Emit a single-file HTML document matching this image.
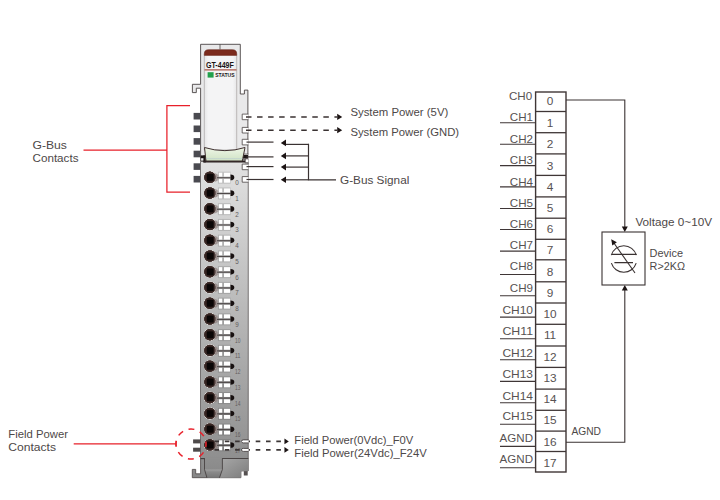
<!DOCTYPE html>
<html lang="en"><head><meta charset="utf-8"><title>GT-449F wiring</title>
<style>html,body{margin:0;padding:0;background:#fff;}svg{display:block;}text{font-family:'Liberation Sans', sans-serif;}</style>
</head><body>
<svg width="720" height="500" viewBox="0 0 720 500">
<defs>
<linearGradient id="body" x1="0" y1="0" x2="0" y2="1"><stop offset="0" stop-color="#e2e2e2"/><stop offset="1" stop-color="#8f8f8f"/></linearGradient>
<linearGradient id="win" x1="0" y1="0" x2="1" y2="0"><stop offset="0" stop-color="#e6e6e7"/><stop offset="0.12" stop-color="#f4f4f5"/><stop offset="0.88" stop-color="#f4f4f5"/><stop offset="1" stop-color="#e6e6e7"/></linearGradient>
<radialGradient id="hole" cx="0.5" cy="0.5" r="0.56"><stop offset="0.45" stop-color="#2a1a18"/><stop offset="0.74" stop-color="#3e2d2a"/><stop offset="0.8" stop-color="#6a5a57"/><stop offset="0.83" stop-color="#e6e0de" stop-opacity="0.9"/><stop offset="0.88" stop-color="#e6e0de" stop-opacity="0"/></radialGradient>
<linearGradient id="clip" x1="0" y1="0" x2="0" y2="1"><stop offset="0" stop-color="#eef5e6"/><stop offset="1" stop-color="#cfe3c4"/></linearGradient>
<linearGradient id="shd" x1="0" y1="0" x2="1" y2="0"><stop offset="0" stop-color="#6a5a58" stop-opacity="0"/><stop offset="0.5" stop-color="#8a7a78" stop-opacity="0.75"/><stop offset="1" stop-color="#a89c9a" stop-opacity="0.6"/></linearGradient>
<linearGradient id="foot" x1="0" y1="0" x2="0" y2="1"><stop offset="0" stop-color="#8f8f8f"/><stop offset="1" stop-color="#868686"/></linearGradient>
<linearGradient id="footr" x1="0" y1="0" x2="1" y2="1"><stop offset="0" stop-color="#a8a8a8"/><stop offset="1" stop-color="#7c7c7c"/></linearGradient>
<linearGradient id="trap" x1="0" y1="0" x2="0" y2="1"><stop offset="0" stop-color="#a2a2a2"/><stop offset="0.3" stop-color="#8a8a8a"/><stop offset="1" stop-color="#767676"/></linearGradient>
</defs>
<rect width="720" height="500" fill="#fff"/>
<path d="M200.6 44.3 H240.3 V94 H244.4 V90.1 H247.9 V161 H200.6 V88.2 H196.3 V92.6 H192.4 V84.3 H200.6 Z" fill="#e9e9ea" stroke="#4a4444" stroke-width="0.9"/>
<rect x="200.6" y="161.6" width="47.6" height="296.9" fill="url(#body)" stroke="#5a5555" stroke-width="0.8"/>
<line x1="220" y1="44.3" x2="220" y2="50" stroke="#4a4444" stroke-width="0.8"/>
<path d="M204.3 150 V54 Q204.3 49.8 208.5 49.8 H232.5 Q236.7 49.8 236.7 54 V150 Z" fill="url(#win)" stroke="#a8a4a4" stroke-width="0.7"/>
<path d="M204.3 55.4 V54 Q204.3 49.8 208.5 49.8 H232.5 Q236.7 49.8 236.7 54 V55.4 Z" fill="#7b2a1c" stroke="#6a2418" stroke-width="0.5"/>
<text x="219.9" y="67.8" font-size="8.6" fill="#1a1414" text-anchor="middle" font-weight="bold" textLength="28" lengthAdjust="spacingAndGlyphs">GT-449F</text>
<line x1="204.5" y1="69.9" x2="236.5" y2="69.9" stroke="#a9584b" stroke-width="1.2"/>
<rect x="207.6" y="72.2" width="6" height="5.4" fill="#22a04c"/>
<text x="215.2" y="77.3" font-size="5.6" fill="#1a1414" text-anchor="start" font-weight="bold" textLength="19.4" lengthAdjust="spacingAndGlyphs">STATUS</text>
<path d="M248.4 114.10000000000001 H242.2 V119.7 H248.4" fill="#fff" stroke="#4a4444" stroke-width="0.8"/>
<path d="M248.4 127.39999999999999 H242.2 V133.0 H248.4" fill="#fff" stroke="#4a4444" stroke-width="0.8"/>
<path d="M248.4 139.29999999999998 H242.2 V144.9 H248.4" fill="#fff" stroke="#4a4444" stroke-width="0.8"/>
<path d="M248.4 154.1 H242.2 V159.70000000000002 H248.4" fill="#fff" stroke="#4a4444" stroke-width="0.8"/>
<path d="M248.4 164.1 H242.2 V169.70000000000002 H248.4" fill="#fff" stroke="#4a4444" stroke-width="0.8"/>
<path d="M248.4 176.6 H242.2 V182.20000000000002 H248.4" fill="#fff" stroke="#4a4444" stroke-width="0.8"/>
<rect x="193.6" y="112.9" width="6.6" height="6.6" fill="#4a4a50"/>
<rect x="193.6" y="125.5" width="6.6" height="6.6" fill="#4a4a50"/>
<rect x="193.6" y="138.1" width="6.6" height="6.6" fill="#4a4a50"/>
<rect x="193.6" y="150.7" width="6.6" height="6.6" fill="#4a4a50"/>
<rect x="193.6" y="163.3" width="6.6" height="6.6" fill="#4a4a50"/>
<rect x="193.6" y="175.9" width="6.6" height="6.6" fill="#4a4a50"/>
<rect x="200.7" y="155.4" width="5" height="2.8" fill="#1c1616"/>
<rect x="203.4" y="155.4" width="2.4" height="7" fill="#1c1616"/>
<rect x="242.3" y="155" width="5.8" height="3.6" fill="#1c1616"/>
<path d="M248.2 158.8 H245.2 V162.8 H248.2" fill="#fff" stroke="#3a3434" stroke-width="0.8"/>
<line x1="203.4" y1="161.6" x2="245" y2="161.6" stroke="#2a2020" stroke-width="1.9"/>
<path d="M204.5 147.5 Q225 153.8 245 147.5 L242.3 161 H206 Z" fill="url(#clip)" stroke="#3f3030" stroke-width="1"/>
<line x1="206.2" y1="158.6" x2="242.6" y2="158.6" stroke="#b9cbd0" stroke-width="0.6"/>
<circle cx="209.9" cy="177.30" r="6.5" fill="url(#hole)"/>
<rect x="207" y="174.10" width="6.5" height="6.6" fill="#0a0606"/>
<path d="M213.6 172.40 Q216.6 173.70 218.6 175.10 V180.10 Q216.6 181.30 213.6 182.40 Z" fill="url(#shd)"/>
<rect x="217.9" y="171.70" width="12.7" height="12" fill="#000" fill-opacity="0.13"/>
<rect x="218.9" y="172.70" width="3.3" height="3.9" fill="#fff"/>
<rect x="224" y="172.70" width="6.1" height="3.9" fill="#fff"/>
<rect x="218.9" y="178.90" width="3.3" height="3.8" fill="#fff"/>
<rect x="224" y="178.90" width="6.1" height="3.8" fill="#fff"/>
<line x1="217" y1="177.75" x2="230.6" y2="177.75" stroke="#4e4848" stroke-width="1.1"/>
<path d="M230.5 174.60 Q234.3 174.60 234.3 177.40 Q234.3 180.20 230.5 180.20 Z" fill="#171010"/>
<text x="235.3" y="185.20" font-size="7.4" fill="#625c5c" text-anchor="start" font-weight="normal" textLength="3.5" lengthAdjust="spacingAndGlyphs">0</text>
<circle cx="209.9" cy="193.04" r="6.5" fill="url(#hole)"/>
<rect x="207" y="189.84" width="6.5" height="6.6" fill="#0a0606"/>
<path d="M213.6 188.14 Q216.6 189.44 218.6 190.84 V195.84 Q216.6 197.04 213.6 198.14 Z" fill="url(#shd)"/>
<rect x="217.9" y="187.44" width="12.7" height="12" fill="#000" fill-opacity="0.13"/>
<rect x="218.9" y="188.44" width="3.3" height="3.9" fill="#fff"/>
<rect x="224" y="188.44" width="6.1" height="3.9" fill="#fff"/>
<rect x="218.9" y="194.64" width="3.3" height="3.8" fill="#fff"/>
<rect x="224" y="194.64" width="6.1" height="3.8" fill="#fff"/>
<line x1="217" y1="193.49" x2="230.6" y2="193.49" stroke="#4e4848" stroke-width="1.1"/>
<path d="M230.5 190.34 Q234.3 190.34 234.3 193.14 Q234.3 195.94 230.5 195.94 Z" fill="#171010"/>
<text x="235.3" y="200.94" font-size="7.4" fill="#625c5c" text-anchor="start" font-weight="normal" textLength="3.5" lengthAdjust="spacingAndGlyphs">1</text>
<circle cx="209.9" cy="208.78" r="6.5" fill="url(#hole)"/>
<rect x="207" y="205.58" width="6.5" height="6.6" fill="#0a0606"/>
<path d="M213.6 203.88 Q216.6 205.18 218.6 206.58 V211.58 Q216.6 212.78 213.6 213.88 Z" fill="url(#shd)"/>
<rect x="217.9" y="203.18" width="12.7" height="12" fill="#000" fill-opacity="0.13"/>
<rect x="218.9" y="204.18" width="3.3" height="3.9" fill="#fff"/>
<rect x="224" y="204.18" width="6.1" height="3.9" fill="#fff"/>
<rect x="218.9" y="210.38" width="3.3" height="3.8" fill="#fff"/>
<rect x="224" y="210.38" width="6.1" height="3.8" fill="#fff"/>
<line x1="217" y1="209.23" x2="230.6" y2="209.23" stroke="#4e4848" stroke-width="1.1"/>
<path d="M230.5 206.08 Q234.3 206.08 234.3 208.88 Q234.3 211.68 230.5 211.68 Z" fill="#171010"/>
<text x="235.3" y="216.68" font-size="7.4" fill="#625c5c" text-anchor="start" font-weight="normal" textLength="3.5" lengthAdjust="spacingAndGlyphs">2</text>
<circle cx="209.9" cy="224.52" r="6.5" fill="url(#hole)"/>
<rect x="207" y="221.32" width="6.5" height="6.6" fill="#0a0606"/>
<path d="M213.6 219.62 Q216.6 220.92 218.6 222.32 V227.32 Q216.6 228.52 213.6 229.62 Z" fill="url(#shd)"/>
<rect x="217.9" y="218.92" width="12.7" height="12" fill="#000" fill-opacity="0.13"/>
<rect x="218.9" y="219.92" width="3.3" height="3.9" fill="#fff"/>
<rect x="224" y="219.92" width="6.1" height="3.9" fill="#fff"/>
<rect x="218.9" y="226.12" width="3.3" height="3.8" fill="#fff"/>
<rect x="224" y="226.12" width="6.1" height="3.8" fill="#fff"/>
<line x1="217" y1="224.97" x2="230.6" y2="224.97" stroke="#4e4848" stroke-width="1.1"/>
<path d="M230.5 221.82 Q234.3 221.82 234.3 224.62 Q234.3 227.42 230.5 227.42 Z" fill="#171010"/>
<text x="235.3" y="232.42" font-size="7.4" fill="#625c5c" text-anchor="start" font-weight="normal" textLength="3.5" lengthAdjust="spacingAndGlyphs">3</text>
<circle cx="209.9" cy="240.26" r="6.5" fill="url(#hole)"/>
<rect x="207" y="237.06" width="6.5" height="6.6" fill="#0a0606"/>
<path d="M213.6 235.36 Q216.6 236.66 218.6 238.06 V243.06 Q216.6 244.26 213.6 245.36 Z" fill="url(#shd)"/>
<rect x="217.9" y="234.66" width="12.7" height="12" fill="#000" fill-opacity="0.13"/>
<rect x="218.9" y="235.66" width="3.3" height="3.9" fill="#fff"/>
<rect x="224" y="235.66" width="6.1" height="3.9" fill="#fff"/>
<rect x="218.9" y="241.86" width="3.3" height="3.8" fill="#fff"/>
<rect x="224" y="241.86" width="6.1" height="3.8" fill="#fff"/>
<line x1="217" y1="240.71" x2="230.6" y2="240.71" stroke="#4e4848" stroke-width="1.1"/>
<path d="M230.5 237.56 Q234.3 237.56 234.3 240.36 Q234.3 243.16 230.5 243.16 Z" fill="#171010"/>
<text x="235.3" y="248.16" font-size="7.4" fill="#625c5c" text-anchor="start" font-weight="normal" textLength="3.5" lengthAdjust="spacingAndGlyphs">4</text>
<circle cx="209.9" cy="256.00" r="6.5" fill="url(#hole)"/>
<rect x="207" y="252.80" width="6.5" height="6.6" fill="#0a0606"/>
<path d="M213.6 251.10 Q216.6 252.40 218.6 253.80 V258.80 Q216.6 260.00 213.6 261.10 Z" fill="url(#shd)"/>
<rect x="217.9" y="250.40" width="12.7" height="12" fill="#000" fill-opacity="0.13"/>
<rect x="218.9" y="251.40" width="3.3" height="3.9" fill="#fff"/>
<rect x="224" y="251.40" width="6.1" height="3.9" fill="#fff"/>
<rect x="218.9" y="257.60" width="3.3" height="3.8" fill="#fff"/>
<rect x="224" y="257.60" width="6.1" height="3.8" fill="#fff"/>
<line x1="217" y1="256.45" x2="230.6" y2="256.45" stroke="#4e4848" stroke-width="1.1"/>
<path d="M230.5 253.30 Q234.3 253.30 234.3 256.10 Q234.3 258.90 230.5 258.90 Z" fill="#171010"/>
<text x="235.3" y="263.90" font-size="7.4" fill="#625c5c" text-anchor="start" font-weight="normal" textLength="3.5" lengthAdjust="spacingAndGlyphs">5</text>
<circle cx="209.9" cy="271.74" r="6.5" fill="url(#hole)"/>
<rect x="207" y="268.54" width="6.5" height="6.6" fill="#0a0606"/>
<path d="M213.6 266.84 Q216.6 268.14 218.6 269.54 V274.54 Q216.6 275.74 213.6 276.84 Z" fill="url(#shd)"/>
<rect x="217.9" y="266.14" width="12.7" height="12" fill="#000" fill-opacity="0.13"/>
<rect x="218.9" y="267.14" width="3.3" height="3.9" fill="#fff"/>
<rect x="224" y="267.14" width="6.1" height="3.9" fill="#fff"/>
<rect x="218.9" y="273.34" width="3.3" height="3.8" fill="#fff"/>
<rect x="224" y="273.34" width="6.1" height="3.8" fill="#fff"/>
<line x1="217" y1="272.19" x2="230.6" y2="272.19" stroke="#4e4848" stroke-width="1.1"/>
<path d="M230.5 269.04 Q234.3 269.04 234.3 271.84 Q234.3 274.64 230.5 274.64 Z" fill="#171010"/>
<text x="235.3" y="279.64" font-size="7.4" fill="#625c5c" text-anchor="start" font-weight="normal" textLength="3.5" lengthAdjust="spacingAndGlyphs">6</text>
<circle cx="209.9" cy="287.48" r="6.5" fill="url(#hole)"/>
<rect x="207" y="284.28" width="6.5" height="6.6" fill="#0a0606"/>
<path d="M213.6 282.58 Q216.6 283.88 218.6 285.28 V290.28 Q216.6 291.48 213.6 292.58 Z" fill="url(#shd)"/>
<rect x="217.9" y="281.88" width="12.7" height="12" fill="#000" fill-opacity="0.13"/>
<rect x="218.9" y="282.88" width="3.3" height="3.9" fill="#fff"/>
<rect x="224" y="282.88" width="6.1" height="3.9" fill="#fff"/>
<rect x="218.9" y="289.08" width="3.3" height="3.8" fill="#fff"/>
<rect x="224" y="289.08" width="6.1" height="3.8" fill="#fff"/>
<line x1="217" y1="287.93" x2="230.6" y2="287.93" stroke="#4e4848" stroke-width="1.1"/>
<path d="M230.5 284.78 Q234.3 284.78 234.3 287.58 Q234.3 290.38 230.5 290.38 Z" fill="#171010"/>
<text x="235.3" y="295.38" font-size="7.4" fill="#625c5c" text-anchor="start" font-weight="normal" textLength="3.5" lengthAdjust="spacingAndGlyphs">7</text>
<circle cx="209.9" cy="303.22" r="6.5" fill="url(#hole)"/>
<rect x="207" y="300.02" width="6.5" height="6.6" fill="#0a0606"/>
<path d="M213.6 298.32 Q216.6 299.62 218.6 301.02 V306.02 Q216.6 307.22 213.6 308.32 Z" fill="url(#shd)"/>
<rect x="217.9" y="297.62" width="12.7" height="12" fill="#000" fill-opacity="0.13"/>
<rect x="218.9" y="298.62" width="3.3" height="3.9" fill="#fff"/>
<rect x="224" y="298.62" width="6.1" height="3.9" fill="#fff"/>
<rect x="218.9" y="304.82" width="3.3" height="3.8" fill="#fff"/>
<rect x="224" y="304.82" width="6.1" height="3.8" fill="#fff"/>
<line x1="217" y1="303.67" x2="230.6" y2="303.67" stroke="#4e4848" stroke-width="1.1"/>
<path d="M230.5 300.52 Q234.3 300.52 234.3 303.32 Q234.3 306.12 230.5 306.12 Z" fill="#171010"/>
<text x="235.3" y="311.12" font-size="7.4" fill="#625c5c" text-anchor="start" font-weight="normal" textLength="3.5" lengthAdjust="spacingAndGlyphs">8</text>
<circle cx="209.9" cy="318.96" r="6.5" fill="url(#hole)"/>
<rect x="207" y="315.76" width="6.5" height="6.6" fill="#0a0606"/>
<path d="M213.6 314.06 Q216.6 315.36 218.6 316.76 V321.76 Q216.6 322.96 213.6 324.06 Z" fill="url(#shd)"/>
<rect x="217.9" y="313.36" width="12.7" height="12" fill="#000" fill-opacity="0.13"/>
<rect x="218.9" y="314.36" width="3.3" height="3.9" fill="#fff"/>
<rect x="224" y="314.36" width="6.1" height="3.9" fill="#fff"/>
<rect x="218.9" y="320.56" width="3.3" height="3.8" fill="#fff"/>
<rect x="224" y="320.56" width="6.1" height="3.8" fill="#fff"/>
<line x1="217" y1="319.41" x2="230.6" y2="319.41" stroke="#4e4848" stroke-width="1.1"/>
<path d="M230.5 316.26 Q234.3 316.26 234.3 319.06 Q234.3 321.86 230.5 321.86 Z" fill="#171010"/>
<text x="235.3" y="326.86" font-size="7.4" fill="#625c5c" text-anchor="start" font-weight="normal" textLength="3.5" lengthAdjust="spacingAndGlyphs">9</text>
<circle cx="209.9" cy="334.70" r="6.5" fill="url(#hole)"/>
<rect x="207" y="331.50" width="6.5" height="6.6" fill="#0a0606"/>
<path d="M213.6 329.80 Q216.6 331.10 218.6 332.50 V337.50 Q216.6 338.70 213.6 339.80 Z" fill="url(#shd)"/>
<rect x="217.9" y="329.10" width="12.7" height="12" fill="#000" fill-opacity="0.13"/>
<rect x="218.9" y="330.10" width="3.3" height="3.9" fill="#fff"/>
<rect x="224" y="330.10" width="6.1" height="3.9" fill="#fff"/>
<rect x="218.9" y="336.30" width="3.3" height="3.8" fill="#fff"/>
<rect x="224" y="336.30" width="6.1" height="3.8" fill="#fff"/>
<line x1="217" y1="335.15" x2="230.6" y2="335.15" stroke="#4e4848" stroke-width="1.1"/>
<path d="M230.5 332.00 Q234.3 332.00 234.3 334.80 Q234.3 337.60 230.5 337.60 Z" fill="#171010"/>
<text x="235.1" y="342.60" font-size="7.4" fill="#625c5c" text-anchor="start" font-weight="normal" textLength="5.4" lengthAdjust="spacingAndGlyphs">10</text>
<circle cx="209.9" cy="350.44" r="6.5" fill="url(#hole)"/>
<rect x="207" y="347.24" width="6.5" height="6.6" fill="#0a0606"/>
<path d="M213.6 345.54 Q216.6 346.84 218.6 348.24 V353.24 Q216.6 354.44 213.6 355.54 Z" fill="url(#shd)"/>
<rect x="217.9" y="344.84" width="12.7" height="12" fill="#000" fill-opacity="0.13"/>
<rect x="218.9" y="345.84" width="3.3" height="3.9" fill="#fff"/>
<rect x="224" y="345.84" width="6.1" height="3.9" fill="#fff"/>
<rect x="218.9" y="352.04" width="3.3" height="3.8" fill="#fff"/>
<rect x="224" y="352.04" width="6.1" height="3.8" fill="#fff"/>
<line x1="217" y1="350.89" x2="230.6" y2="350.89" stroke="#4e4848" stroke-width="1.1"/>
<path d="M230.5 347.74 Q234.3 347.74 234.3 350.54 Q234.3 353.34 230.5 353.34 Z" fill="#171010"/>
<text x="235.1" y="358.34" font-size="7.4" fill="#625c5c" text-anchor="start" font-weight="normal" textLength="5.4" lengthAdjust="spacingAndGlyphs">11</text>
<circle cx="209.9" cy="366.18" r="6.5" fill="url(#hole)"/>
<rect x="207" y="362.98" width="6.5" height="6.6" fill="#0a0606"/>
<path d="M213.6 361.28 Q216.6 362.58 218.6 363.98 V368.98 Q216.6 370.18 213.6 371.28 Z" fill="url(#shd)"/>
<rect x="217.9" y="360.58" width="12.7" height="12" fill="#000" fill-opacity="0.13"/>
<rect x="218.9" y="361.58" width="3.3" height="3.9" fill="#fff"/>
<rect x="224" y="361.58" width="6.1" height="3.9" fill="#fff"/>
<rect x="218.9" y="367.78" width="3.3" height="3.8" fill="#fff"/>
<rect x="224" y="367.78" width="6.1" height="3.8" fill="#fff"/>
<line x1="217" y1="366.63" x2="230.6" y2="366.63" stroke="#4e4848" stroke-width="1.1"/>
<path d="M230.5 363.48 Q234.3 363.48 234.3 366.28 Q234.3 369.08 230.5 369.08 Z" fill="#171010"/>
<text x="235.1" y="374.08" font-size="7.4" fill="#625c5c" text-anchor="start" font-weight="normal" textLength="5.4" lengthAdjust="spacingAndGlyphs">12</text>
<circle cx="209.9" cy="381.92" r="6.5" fill="url(#hole)"/>
<rect x="207" y="378.72" width="6.5" height="6.6" fill="#0a0606"/>
<path d="M213.6 377.02 Q216.6 378.32 218.6 379.72 V384.72 Q216.6 385.92 213.6 387.02 Z" fill="url(#shd)"/>
<rect x="217.9" y="376.32" width="12.7" height="12" fill="#000" fill-opacity="0.13"/>
<rect x="218.9" y="377.32" width="3.3" height="3.9" fill="#fff"/>
<rect x="224" y="377.32" width="6.1" height="3.9" fill="#fff"/>
<rect x="218.9" y="383.52" width="3.3" height="3.8" fill="#fff"/>
<rect x="224" y="383.52" width="6.1" height="3.8" fill="#fff"/>
<line x1="217" y1="382.37" x2="230.6" y2="382.37" stroke="#4e4848" stroke-width="1.1"/>
<path d="M230.5 379.22 Q234.3 379.22 234.3 382.02 Q234.3 384.82 230.5 384.82 Z" fill="#171010"/>
<text x="235.1" y="389.82" font-size="7.4" fill="#625c5c" text-anchor="start" font-weight="normal" textLength="5.4" lengthAdjust="spacingAndGlyphs">13</text>
<circle cx="209.9" cy="397.66" r="6.5" fill="url(#hole)"/>
<rect x="207" y="394.46" width="6.5" height="6.6" fill="#0a0606"/>
<path d="M213.6 392.76 Q216.6 394.06 218.6 395.46 V400.46 Q216.6 401.66 213.6 402.76 Z" fill="url(#shd)"/>
<rect x="217.9" y="392.06" width="12.7" height="12" fill="#000" fill-opacity="0.13"/>
<rect x="218.9" y="393.06" width="3.3" height="3.9" fill="#fff"/>
<rect x="224" y="393.06" width="6.1" height="3.9" fill="#fff"/>
<rect x="218.9" y="399.26" width="3.3" height="3.8" fill="#fff"/>
<rect x="224" y="399.26" width="6.1" height="3.8" fill="#fff"/>
<line x1="217" y1="398.11" x2="230.6" y2="398.11" stroke="#4e4848" stroke-width="1.1"/>
<path d="M230.5 394.96 Q234.3 394.96 234.3 397.76 Q234.3 400.56 230.5 400.56 Z" fill="#171010"/>
<text x="235.1" y="405.56" font-size="7.4" fill="#625c5c" text-anchor="start" font-weight="normal" textLength="5.4" lengthAdjust="spacingAndGlyphs">14</text>
<circle cx="209.9" cy="413.40" r="6.5" fill="url(#hole)"/>
<rect x="207" y="410.20" width="6.5" height="6.6" fill="#0a0606"/>
<path d="M213.6 408.50 Q216.6 409.80 218.6 411.20 V416.20 Q216.6 417.40 213.6 418.50 Z" fill="url(#shd)"/>
<rect x="217.9" y="407.80" width="12.7" height="12" fill="#000" fill-opacity="0.13"/>
<rect x="218.9" y="408.80" width="3.3" height="3.9" fill="#fff"/>
<rect x="224" y="408.80" width="6.1" height="3.9" fill="#fff"/>
<rect x="218.9" y="415.00" width="3.3" height="3.8" fill="#fff"/>
<rect x="224" y="415.00" width="6.1" height="3.8" fill="#fff"/>
<line x1="217" y1="413.85" x2="230.6" y2="413.85" stroke="#4e4848" stroke-width="1.1"/>
<path d="M230.5 410.70 Q234.3 410.70 234.3 413.50 Q234.3 416.30 230.5 416.30 Z" fill="#171010"/>
<text x="235.1" y="421.30" font-size="7.4" fill="#625c5c" text-anchor="start" font-weight="normal" textLength="5.4" lengthAdjust="spacingAndGlyphs">15</text>
<circle cx="209.9" cy="429.14" r="6.5" fill="url(#hole)"/>
<rect x="207" y="425.94" width="6.5" height="6.6" fill="#0a0606"/>
<path d="M213.6 424.24 Q216.6 425.54 218.6 426.94 V431.94 Q216.6 433.14 213.6 434.24 Z" fill="url(#shd)"/>
<rect x="217.9" y="423.54" width="12.7" height="12" fill="#000" fill-opacity="0.13"/>
<rect x="218.9" y="424.54" width="3.3" height="3.9" fill="#fff"/>
<rect x="224" y="424.54" width="6.1" height="3.9" fill="#fff"/>
<rect x="218.9" y="430.74" width="3.3" height="3.8" fill="#fff"/>
<rect x="224" y="430.74" width="6.1" height="3.8" fill="#fff"/>
<line x1="217" y1="429.59" x2="230.6" y2="429.59" stroke="#4e4848" stroke-width="1.1"/>
<path d="M230.5 426.44 Q234.3 426.44 234.3 429.24 Q234.3 432.04 230.5 432.04 Z" fill="#171010"/>
<text x="235.1" y="437.04" font-size="7.4" fill="#625c5c" text-anchor="start" font-weight="normal" textLength="5.4" lengthAdjust="spacingAndGlyphs">16</text>
<circle cx="209.9" cy="444.88" r="6.5" fill="url(#hole)"/>
<rect x="207" y="441.68" width="6.5" height="6.6" fill="#0a0606"/>
<path d="M213.6 439.98 Q216.6 441.28 218.6 442.68 V447.68 Q216.6 448.88 213.6 449.98 Z" fill="url(#shd)"/>
<rect x="217.9" y="439.28" width="12.7" height="12" fill="#000" fill-opacity="0.13"/>
<rect x="218.9" y="440.28" width="3.3" height="3.9" fill="#fff"/>
<rect x="224" y="440.28" width="6.1" height="3.9" fill="#fff"/>
<rect x="218.9" y="446.48" width="3.3" height="3.8" fill="#fff"/>
<rect x="224" y="446.48" width="6.1" height="3.8" fill="#fff"/>
<line x1="217" y1="445.33" x2="230.6" y2="445.33" stroke="#4e4848" stroke-width="1.1"/>
<path d="M230.5 442.18 Q234.3 442.18 234.3 444.98 Q234.3 447.78 230.5 447.78 Z" fill="#171010"/>
<text x="235.1" y="452.78" font-size="7.4" fill="#625c5c" text-anchor="start" font-weight="normal" textLength="5.4" lengthAdjust="spacingAndGlyphs">17</text>
<path d="M200.6 458.5 H248.2 V470.9 H240.9 V477.7 H192.3 V469.4 H195.7 V473.8 H200.6 Z" fill="url(#foot)" stroke="#4a4444" stroke-width="0.8"/>
<path d="M222.4 458.5 H248.2 V470.9 H240.9 V477.7 H219.5 L222.4 469.4 Z" fill="url(#footr)" stroke="none"/>
<rect x="204.9" y="457.4" width="17.1" height="2.2" fill="#8f8f8f"/>
<path d="M204.5 469.4 H222.4 L219.5 477.7 H206.9 Z" fill="url(#trap)"/>
<path d="M200.6 458.7 H204.5 V469.4 L206.9 477.7 M248.2 458.5 H222.4 V469.4 L219.5 477.7" fill="none" stroke="#3f3838" stroke-width="0.8"/>
<rect x="243.8" y="471.1" width="3.9" height="4.4" fill="#555050"/>
<rect x="193.1" y="439.4" width="7.3" height="4" fill="#4e4a4a"/>
<rect x="193.1" y="447.7" width="7.3" height="4" fill="#4e4a4a"/>
<text x="32.5" y="148.5" font-size="11" fill="#4d4848" text-anchor="start" font-weight="normal" textLength="34.4" lengthAdjust="spacingAndGlyphs">G-Bus</text>
<text x="32.5" y="162" font-size="11" fill="#4d4848" text-anchor="start" font-weight="normal" textLength="46" lengthAdjust="spacingAndGlyphs">Contacts</text>
<path d="M83.5 150.2 H166.9 M190 105.6 H166.9 V192.1 H190" fill="none" stroke="#e8202a" stroke-width="1.25"/>
<text x="8.3" y="437.5" font-size="11" fill="#4d4848" text-anchor="start" font-weight="normal" textLength="59.7" lengthAdjust="spacingAndGlyphs">Field Power</text>
<text x="8.3" y="450.7" font-size="11" fill="#4d4848" text-anchor="start" font-weight="normal" textLength="47.7" lengthAdjust="spacingAndGlyphs">Contacts</text>
<path d="M73.7 443.9 H176 M176 441.3 V446.6" fill="none" stroke="#e8202a" stroke-width="1.2"/>
<circle cx="191" cy="444" r="15" fill="none" stroke="#e8202a" stroke-width="1.5" stroke-dasharray="6 5.78" stroke-dashoffset="3"/>
<line x1="246" y1="116.9" x2="337" y2="116.9" stroke="#3a3232" stroke-width="1.55" stroke-dasharray="5.5 5.55"/>
<path d="M342.2 116.9 L337.2 113.80000000000001 V120.0 Z" fill="#1c1414"/>
<line x1="246" y1="130.2" x2="337" y2="130.2" stroke="#3a3232" stroke-width="1.55" stroke-dasharray="5.5 5.55"/>
<path d="M342.2 130.2 L337.2 127.1 V133.29999999999998 Z" fill="#1c1414"/>
<line x1="246.5" y1="142.1" x2="273.5" y2="142.1" stroke="#3a3232" stroke-width="1.2"/>
<line x1="285" y1="144.4" x2="308.5" y2="144.4" stroke="#3a3232" stroke-width="1.2"/>
<path d="M280.8 142.9 L286.0 139.6 V146.20000000000002 Z" fill="#1c1414"/>
<line x1="246.5" y1="156.9" x2="273.5" y2="156.9" stroke="#3a3232" stroke-width="1.2"/>
<line x1="285" y1="155.9" x2="308.5" y2="155.9" stroke="#3a3232" stroke-width="1.2"/>
<path d="M280.8 155.9 L286.0 152.6 V159.20000000000002 Z" fill="#1c1414"/>
<line x1="246.5" y1="166.6" x2="273.5" y2="166.6" stroke="#3a3232" stroke-width="1.2"/>
<line x1="285" y1="167.1" x2="308.5" y2="167.1" stroke="#3a3232" stroke-width="1.2"/>
<path d="M280.8 167.1 L286.0 163.79999999999998 V170.4 Z" fill="#1c1414"/>
<line x1="246.5" y1="179.5" x2="273.5" y2="179.5" stroke="#3a3232" stroke-width="1.2"/>
<line x1="285" y1="179.8" x2="308.5" y2="179.8" stroke="#3a3232" stroke-width="1.2"/>
<path d="M280.8 179.8 L286.0 176.5 V183.10000000000002 Z" fill="#1c1414"/>
<path d="M308.5 143.8 V179.8 H336" fill="none" stroke="#3a3232" stroke-width="1.2"/>
<text x="350.4" y="116.4" font-size="11" fill="#4d4848" text-anchor="start" font-weight="normal" textLength="97.9" lengthAdjust="spacingAndGlyphs">System Power (5V)</text>
<text x="350.4" y="136.4" font-size="11" fill="#4d4848" text-anchor="start" font-weight="normal" textLength="108.7" lengthAdjust="spacingAndGlyphs">System Power (GND)</text>
<text x="340" y="183.5" font-size="11" fill="#4d4848" text-anchor="start" font-weight="normal" textLength="69.3" lengthAdjust="spacingAndGlyphs">G-Bus Signal</text>
<line x1="214.5" y1="441.4" x2="285" y2="441.4" stroke="#3c3636" stroke-width="1.6" stroke-dasharray="4.6 5.7"/>
<path d="M288.8 441.4 L284.45 438.5 V444.29999999999995 Z" fill="#1c1414"/>
<line x1="214.5" y1="449.9" x2="285" y2="449.9" stroke="#3c3636" stroke-width="1.6" stroke-dasharray="4.6 5.7"/>
<path d="M288.8 449.9 L284.45 447.0 V452.79999999999995 Z" fill="#1c1414"/>
<path d="M248.6 439.9 H243.4 Q241.6 439.9 241.3 441.4 Q241.6 442.9 243.4 442.9 H248.6" fill="#fff" stroke="#3a3434" stroke-width="0.8"/>
<path d="M248.6 448.4 H243.4 Q241.6 448.4 241.3 449.9 Q241.6 451.4 243.4 451.4 H248.6" fill="#fff" stroke="#3a3434" stroke-width="0.8"/>
<text x="294.3" y="444" font-size="11" fill="#4d4848" text-anchor="start" font-weight="normal" textLength="119" lengthAdjust="spacingAndGlyphs">Field Power(0Vdc)_F0V</text>
<text x="294.3" y="456.8" font-size="11" fill="#4d4848" text-anchor="start" font-weight="normal" textLength="132.4" lengthAdjust="spacingAndGlyphs">Field Power(24Vdc)_F24V</text>
<rect x="535.6" y="92" width="30.4" height="380.0" fill="#fff" stroke="#3f3636" stroke-width="1.4"/>
<line x1="535.6" y1="111.5" x2="566" y2="111.5" stroke="#3f3636" stroke-width="1.3"/>
<line x1="535.6" y1="132.7" x2="566" y2="132.7" stroke="#3f3636" stroke-width="1.3"/>
<line x1="535.6" y1="153.9" x2="566" y2="153.9" stroke="#3f3636" stroke-width="1.3"/>
<line x1="535.6" y1="175.4" x2="566" y2="175.4" stroke="#3f3636" stroke-width="1.3"/>
<line x1="535.6" y1="196.9" x2="566" y2="196.9" stroke="#3f3636" stroke-width="1.3"/>
<line x1="535.6" y1="218.2" x2="566" y2="218.2" stroke="#3f3636" stroke-width="1.3"/>
<line x1="535.6" y1="239.3" x2="566" y2="239.3" stroke="#3f3636" stroke-width="1.3"/>
<line x1="535.6" y1="259.8" x2="566" y2="259.8" stroke="#3f3636" stroke-width="1.3"/>
<line x1="535.6" y1="281.8" x2="566" y2="281.8" stroke="#3f3636" stroke-width="1.3"/>
<line x1="535.6" y1="303" x2="566" y2="303" stroke="#3f3636" stroke-width="1.3"/>
<line x1="535.6" y1="324.3" x2="566" y2="324.3" stroke="#3f3636" stroke-width="1.3"/>
<line x1="535.6" y1="346" x2="566" y2="346" stroke="#3f3636" stroke-width="1.3"/>
<line x1="535.6" y1="367.4" x2="566" y2="367.4" stroke="#3f3636" stroke-width="1.3"/>
<line x1="535.6" y1="389.1" x2="566" y2="389.1" stroke="#3f3636" stroke-width="1.3"/>
<line x1="535.6" y1="410.3" x2="566" y2="410.3" stroke="#3f3636" stroke-width="1.3"/>
<line x1="535.6" y1="431.1" x2="566" y2="431.1" stroke="#3f3636" stroke-width="1.3"/>
<line x1="535.6" y1="451.5" x2="566" y2="451.5" stroke="#3f3636" stroke-width="1.3"/>
<text x="550" y="105" font-size="11.8" fill="#575252" text-anchor="middle" font-weight="normal">0</text>
<text x="509.0" y="100.1" font-size="11.6" fill="#575252" text-anchor="start" font-weight="normal" textLength="23.2" lengthAdjust="spacingAndGlyphs">CH0</text>
<text x="550" y="126.6" font-size="11.8" fill="#575252" text-anchor="middle" font-weight="normal">1</text>
<text x="509.8" y="120.6" font-size="11.6" fill="#575252" text-anchor="start" font-weight="normal" textLength="23.2" lengthAdjust="spacingAndGlyphs">CH1</text>
<line x1="500" y1="122.7" x2="535.6" y2="122.7" stroke="#3f3636" stroke-width="1.1"/>
<text x="550" y="148.2" font-size="11.8" fill="#575252" text-anchor="middle" font-weight="normal">2</text>
<text x="509.8" y="142.7" font-size="11.6" fill="#575252" text-anchor="start" font-weight="normal" textLength="23.2" lengthAdjust="spacingAndGlyphs">CH2</text>
<line x1="500" y1="144.3" x2="535.6" y2="144.3" stroke="#3f3636" stroke-width="1.1"/>
<text x="550" y="169.5" font-size="11.8" fill="#575252" text-anchor="middle" font-weight="normal">3</text>
<text x="509.8" y="163.8" font-size="11.6" fill="#575252" text-anchor="start" font-weight="normal" textLength="23.2" lengthAdjust="spacingAndGlyphs">CH3</text>
<line x1="500" y1="165.6" x2="535.6" y2="165.6" stroke="#3f3636" stroke-width="1.1"/>
<text x="550" y="190.8" font-size="11.8" fill="#575252" text-anchor="middle" font-weight="normal">4</text>
<text x="509.8" y="185.6" font-size="11.6" fill="#575252" text-anchor="start" font-weight="normal" textLength="23.2" lengthAdjust="spacingAndGlyphs">CH4</text>
<line x1="500" y1="186.9" x2="535.6" y2="186.9" stroke="#3f3636" stroke-width="1.1"/>
<text x="550" y="211.6" font-size="11.8" fill="#575252" text-anchor="middle" font-weight="normal">5</text>
<text x="509.8" y="206.7" font-size="11.6" fill="#575252" text-anchor="start" font-weight="normal" textLength="23.2" lengthAdjust="spacingAndGlyphs">CH5</text>
<line x1="500" y1="208.5" x2="535.6" y2="208.5" stroke="#3f3636" stroke-width="1.1"/>
<text x="550" y="232.9" font-size="11.8" fill="#575252" text-anchor="middle" font-weight="normal">6</text>
<text x="509.8" y="227.7" font-size="11.6" fill="#575252" text-anchor="start" font-weight="normal" textLength="23.2" lengthAdjust="spacingAndGlyphs">CH6</text>
<line x1="500" y1="229.5" x2="535.6" y2="229.5" stroke="#3f3636" stroke-width="1.1"/>
<text x="550" y="254.2" font-size="11.8" fill="#575252" text-anchor="middle" font-weight="normal">7</text>
<text x="509.8" y="249" font-size="11.6" fill="#575252" text-anchor="start" font-weight="normal" textLength="23.2" lengthAdjust="spacingAndGlyphs">CH7</text>
<line x1="500" y1="251.1" x2="535.6" y2="251.1" stroke="#3f3636" stroke-width="1.1"/>
<text x="550" y="275.5" font-size="11.8" fill="#575252" text-anchor="middle" font-weight="normal">8</text>
<text x="509.8" y="270.3" font-size="11.6" fill="#575252" text-anchor="start" font-weight="normal" textLength="23.2" lengthAdjust="spacingAndGlyphs">CH8</text>
<line x1="500" y1="274.5" x2="535.6" y2="274.5" stroke="#3f3636" stroke-width="1.1"/>
<text x="550" y="296.6" font-size="11.8" fill="#575252" text-anchor="middle" font-weight="normal">9</text>
<text x="509.8" y="291.9" font-size="11.6" fill="#575252" text-anchor="start" font-weight="normal" textLength="23.2" lengthAdjust="spacingAndGlyphs">CH9</text>
<line x1="500" y1="295.8" x2="535.6" y2="295.8" stroke="#3f3636" stroke-width="1.1"/>
<text x="550" y="317.9" font-size="11.8" fill="#575252" text-anchor="middle" font-weight="normal">10</text>
<text x="502.4" y="314" font-size="11.6" fill="#575252" text-anchor="start" font-weight="normal" textLength="30.6" lengthAdjust="spacingAndGlyphs">CH10</text>
<line x1="500" y1="317.1" x2="535.6" y2="317.1" stroke="#3f3636" stroke-width="1.1"/>
<text x="550" y="339.2" font-size="11.8" fill="#575252" text-anchor="middle" font-weight="normal">11</text>
<text x="502.4" y="334.8" font-size="11.6" fill="#575252" text-anchor="start" font-weight="normal" textLength="30.6" lengthAdjust="spacingAndGlyphs">CH11</text>
<line x1="500" y1="338.7" x2="535.6" y2="338.7" stroke="#3f3636" stroke-width="1.1"/>
<text x="550" y="360.6" font-size="11.8" fill="#575252" text-anchor="middle" font-weight="normal">12</text>
<text x="502.4" y="356.7" font-size="11.6" fill="#575252" text-anchor="start" font-weight="normal" textLength="30.6" lengthAdjust="spacingAndGlyphs">CH12</text>
<line x1="500" y1="359.8" x2="535.6" y2="359.8" stroke="#3f3636" stroke-width="1.1"/>
<text x="550" y="381.9" font-size="11.8" fill="#575252" text-anchor="middle" font-weight="normal">13</text>
<text x="502.4" y="378" font-size="11.6" fill="#575252" text-anchor="start" font-weight="normal" textLength="30.6" lengthAdjust="spacingAndGlyphs">CH13</text>
<line x1="500" y1="381.4" x2="535.6" y2="381.4" stroke="#3f3636" stroke-width="1.1"/>
<text x="550" y="403" font-size="11.8" fill="#575252" text-anchor="middle" font-weight="normal">14</text>
<text x="502.4" y="399.6" font-size="11.6" fill="#575252" text-anchor="start" font-weight="normal" textLength="30.6" lengthAdjust="spacingAndGlyphs">CH14</text>
<line x1="500" y1="402.7" x2="535.6" y2="402.7" stroke="#3f3636" stroke-width="1.1"/>
<text x="550" y="424.3" font-size="11.8" fill="#575252" text-anchor="middle" font-weight="normal">15</text>
<text x="502.4" y="420.4" font-size="11.6" fill="#575252" text-anchor="start" font-weight="normal" textLength="30.6" lengthAdjust="spacingAndGlyphs">CH15</text>
<line x1="500" y1="424.3" x2="535.6" y2="424.3" stroke="#3f3636" stroke-width="1.1"/>
<text x="550" y="445.9" font-size="11.8" fill="#575252" text-anchor="middle" font-weight="normal">16</text>
<text x="499.6" y="441.7" font-size="11.6" fill="#575252" text-anchor="start" font-weight="normal" textLength="33.4" lengthAdjust="spacingAndGlyphs">AGND</text>
<line x1="500" y1="446.4" x2="535.6" y2="446.4" stroke="#3f3636" stroke-width="1.1"/>
<text x="550" y="467.2" font-size="11.8" fill="#575252" text-anchor="middle" font-weight="normal">17</text>
<text x="499.6" y="463.3" font-size="11.6" fill="#575252" text-anchor="start" font-weight="normal" textLength="33.4" lengthAdjust="spacingAndGlyphs">AGND</text>
<line x1="500" y1="467.7" x2="535.6" y2="467.7" stroke="#3f3636" stroke-width="1.1"/>
<path d="M566 100 H624.8 V228" fill="none" stroke="#3a3232" stroke-width="1.1"/>
<path d="M624.8 232 L621.8 226.6 H627.8 Z" fill="#1c1414"/>
<path d="M566 442.3 H624.8 V289" fill="none" stroke="#3a3232" stroke-width="1.1"/>
<path d="M624.8 285 L621.8 290.4 H627.8 Z" fill="#1c1414"/>
<rect x="602" y="232" width="43" height="53" fill="#fff" stroke="#3a3232" stroke-width="1.1"/>
<path d="M611.3 255.2 A13 13 0 0 1 636.3 255.2 M636.2 263.2 A13 13 0 0 1 611.4 263.2" fill="none" stroke="#3a3232" stroke-width="1.1"/>
<path d="M612 254.4 H636.6 M614.4 262.6 H633" fill="none" stroke="#3a3232" stroke-width="1.1"/>
<line x1="635" y1="273" x2="613.2" y2="242" stroke="#3a3232" stroke-width="1.1"/>
<path d="M611.2 239.2 L616.9 242.3 L612.3 245.5 Z" fill="#1c1414"/>
<text x="635.4" y="226" font-size="10.6" fill="#4d4848" text-anchor="start" font-weight="normal" textLength="76.6" lengthAdjust="spacingAndGlyphs">Voltage 0~10V</text>
<text x="649.6" y="257" font-size="10.6" fill="#4d4848" text-anchor="start" font-weight="normal" textLength="33.4" lengthAdjust="spacingAndGlyphs">Device</text>
<text x="649.6" y="270" font-size="10.6" fill="#4d4848" text-anchor="start" font-weight="normal" textLength="35.4" lengthAdjust="spacingAndGlyphs">R&gt;2K&#937;</text>
<text x="571.4" y="435.4" font-size="10.6" fill="#4d4848" text-anchor="start" font-weight="normal" textLength="29.6" lengthAdjust="spacingAndGlyphs">AGND</text>
</svg></body></html>
